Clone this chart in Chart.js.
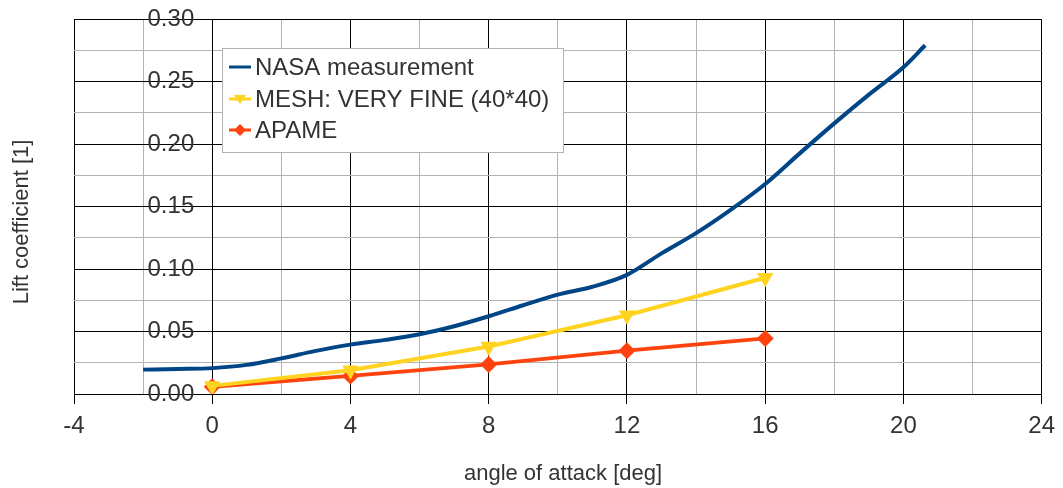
<!DOCTYPE html>
<html>
<head>
<meta charset="utf-8">
<script src="https://cdn.jsdelivr.net/npm/chart.js"></script>
<style>
  html,body{margin:0;padding:0;background:#fff;}
  #wrap{width:1063px;height:488px;}
</style>
</head>
<body>
<div id="wrap"><canvas id="liftChart" width="1063" height="488"></canvas></div>
<script>
// ---- data ----
const nasaAoa=[-2,-1,0,1,2,3,4,5,6,7,8,9,10,11,12,13,14,15,16,17,18,19,20,20.63];
const nasaCl=[0.0195,0.0200,0.0207,0.0233,0.0285,0.0345,0.0395,0.0433,0.0478,0.0542,0.0622,0.0710,0.0795,0.0858,0.0953,0.1125,0.1287,0.1473,0.1680,0.1925,0.2165,0.2395,0.2614,0.2790];
const meshAoa=[0,4,8,12,16];
const meshCl=[0.0065,0.0190,0.0380,0.0630,0.0930];
const apameAoa=[0,4,8,12,16];
const apameCl=[0.0058,0.0145,0.0237,0.0347,0.0445];
const seriesNames=["NASA measurement","MESH: VERY FINE (40*40)","APAME"];
const seriesColors=["#004586","#ffd320","#ff420e"];
const xTitle="angle of attack [deg]";
const yTitle="Lift coefficient [1]";
const xMin=-4, xMax=24, xStep=2, xLabelEvery=4;
const yMin=0, yMax=0.30, yStep=0.025, yLabelEvery=0.05;

const FONT='"Liberation Sans", Arial, sans-serif';
const TXT='#333333';
const pts=(xs,ys)=>xs.map((x,i)=>({x:x,y:ys[i]}));
const isMajorX=v=>Math.abs(v%xLabelEvery)<1e-9;
const isMajorY=v=>Math.round(v*1000)%Math.round(yLabelEvery*1000)===0;

// y labels (axis sits at x=0, chart.js puts them flush to the line), titles, legend box
const decor={
  id:'decor',
  afterDraw(chart){
    const c=chart.ctx, sx=chart.scales.x, sy=chart.scales.y; c.save();
    c.fillStyle=TXT; c.textBaseline='middle';
    c.font='24px '+FONT; c.textAlign='right';
    const ax=sx.getPixelForValue(0)-11-7;
    sy.ticks.forEach(t=>{ if(isMajorY(t.value)) c.fillText(t.value.toFixed(2),ax,sy.getPixelForValue(t.value)); });

    c.textAlign='center'; c.font='22px '+FONT;
    c.fillText(xTitle,563,474);
    c.save(); c.translate(22,222); c.rotate(-Math.PI/2); c.fillText(yTitle,0,0); c.restore();

    // legend
    const L={x:222.5,y:48.5,w:341,h:104};
    c.fillStyle='#fff'; c.fillRect(L.x,L.y,L.w,L.h);
    c.strokeStyle='#b3b3b3'; c.lineWidth=1; c.strokeRect(L.x,L.y,L.w,L.h);
    const rows=[67,99,130];
    rows.forEach((ry,i)=>{
      c.strokeStyle=seriesColors[i]; c.lineWidth=3;
      c.beginPath(); c.moveTo(229,ry); c.lineTo(251,ry); c.stroke();
      c.fillStyle=seriesColors[i];
      if(i===1){ c.beginPath(); c.moveTo(234,ry-4); c.lineTo(246,ry-4); c.lineTo(240,ry+5); c.closePath(); c.fill(); }
      if(i===2){ c.beginPath(); c.moveTo(240,ry-6); c.lineTo(246,ry); c.lineTo(240,ry+6); c.lineTo(234,ry); c.closePath(); c.fill(); }
      c.fillStyle=TXT; c.textAlign='left'; c.font='24px '+FONT;
      c.fillText(seriesNames[i],255,ry+1);
    });
    c.restore();
  }
};

new Chart(document.getElementById('liftChart').getContext('2d'),{
  type:'line',
  data:{datasets:[
    {label:seriesNames[0],data:pts(nasaAoa,nasaCl),borderColor:seriesColors[0],borderWidth:4,pointRadius:0,cubicInterpolationMode:'monotone',fill:false},
    {label:seriesNames[1],data:pts(meshAoa,meshCl),borderColor:seriesColors[1],backgroundColor:seriesColors[1],borderWidth:4,tension:0,
      pointStyle:'triangle',rotation:180,pointRadius:9.5,pointBorderWidth:0,fill:false},
    {label:seriesNames[2],data:pts(apameAoa,apameCl),borderColor:seriesColors[2],backgroundColor:seriesColors[2],borderWidth:4,tension:0,
      pointStyle:'rectRot',pointRadius:8.5,pointBorderWidth:0,fill:false}
  ]},
  options:{
    responsive:false,animation:false,devicePixelRatio:1,
    layout:{padding:{left:74,right:18,top:19,bottom:0}},
    plugins:{legend:{display:false},tooltip:{enabled:false},title:{display:false}},
    scales:{
      x:{type:'linear',position:'bottom',min:xMin,max:xMax,
        afterFit:s=>{s.height=94;},
        border:{display:true,color:'#000',width:1},
        grid:{color:c=>isMajorX(c.tick.value)?'#000':'#b3b3b3',
              tickColor:c=>isMajorX(c.tick.value)?'#000':'rgba(0,0,0,0)',tickLength:10,lineWidth:1},
        ticks:{stepSize:xStep,autoSkip:false,maxRotation:0,padding:8,color:TXT,font:{family:FONT,size:24},
               callback:v=>isMajorX(v)?String(v):''}
      },
      y:{type:'linear',position:{x:0},min:yMin,max:yMax,
        border:{display:true,color:'#000',width:1},
        grid:{color:c=>isMajorY(c.tick.value)?'#000':'#b3b3b3',
              tickColor:c=>isMajorY(c.tick.value)?'#000':'rgba(0,0,0,0)',tickLength:11,lineWidth:1},
        ticks:{stepSize:yStep,autoSkip:false,display:false}
      }
    }
  },
  plugins:[decor]
});
</script>
</body>
</html>
